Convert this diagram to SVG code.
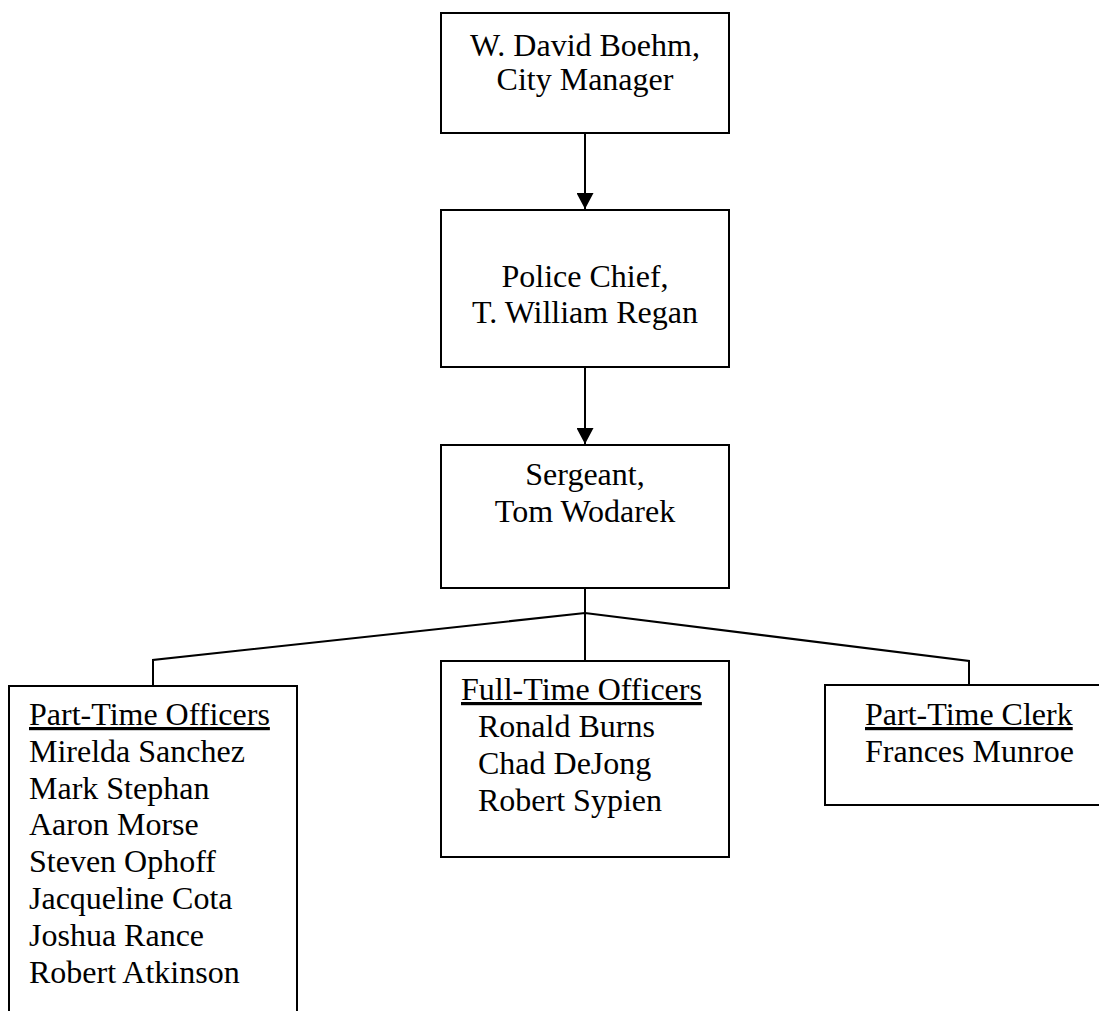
<svg xmlns="http://www.w3.org/2000/svg" width="1099" height="1011" viewBox="0 0 1099 1011">
<defs>
<style>
.box{fill:#fff;stroke:#000;stroke-width:2}
.t{font-family:"Liberation Serif","Times New Roman",serif;font-size:32px;fill:#000}
.c{text-anchor:middle}
.u{text-decoration:underline}
.ln{fill:none;stroke:#000;stroke-width:2}
</style>
<marker id="ah" viewBox="0 0 16 17" refX="16" refY="8.5" markerWidth="16" markerHeight="17" markerUnits="userSpaceOnUse" orient="auto">
<path d="M0,0 L16,8.5 L0,17 Z" fill="#000"/>
</marker>
</defs>
<rect width="1099" height="1011" fill="#fff"/>
<g id="connectors">
<line class="ln" x1="585" y1="133" x2="585" y2="209" marker-end="url(#ah)"/>
<line class="ln" x1="585" y1="367" x2="585" y2="444" marker-end="url(#ah)"/>
<line class="ln" x1="585" y1="588" x2="585" y2="661"/>
<polyline class="ln" points="153,686 153,660 585,613 969,661 969,685"/>
</g>
<g id="city-manager">
<rect class="box" x="441" y="13" width="288" height="120"/>
<text class="t c" x="585" y="56">W. David Boehm,</text>
<text class="t c" x="585" y="90">City Manager</text>
</g>
<g id="police-chief">
<rect class="box" x="441" y="210" width="288" height="157"/>
<text class="t c" x="585" y="287">Police Chief,</text>
<text class="t c" x="585" y="323">T. William Regan</text>
</g>
<g id="sergeant">
<rect class="box" x="441" y="445" width="288" height="143"/>
<text class="t c" x="585" y="485">Sergeant,</text>
<text class="t c" x="585" y="522">Tom Wodarek</text>
</g>
<g id="part-time-officers">
<rect class="box" x="9" y="686" width="288" height="340"/>
<text class="t u" x="29" y="725">Part-Time Officers</text>
<text class="t" x="29" y="762">Mirelda Sanchez</text>
<text class="t" x="29" y="799">Mark Stephan</text>
<text class="t" x="29" y="835">Aaron Morse</text>
<text class="t" x="29" y="872">Steven Ophoff</text>
<text class="t" x="29" y="909">Jacqueline Cota</text>
<text class="t" x="29" y="946">Joshua Rance</text>
<text class="t" x="29" y="983">Robert Atkinson</text>
</g>
<g id="full-time-officers">
<rect class="box" x="441" y="661" width="288" height="196"/>
<text class="t u" x="461" y="700">Full-Time Officers</text>
<text class="t" x="478" y="737">Ronald Burns</text>
<text class="t" x="478" y="774">Chad DeJong</text>
<text class="t" x="478" y="811">Robert Sypien</text>
</g>
<g id="part-time-clerk">
<rect class="box" x="825" y="685" width="290" height="120"/>
<text class="t u" x="865" y="725">Part-Time Clerk</text>
<text class="t" x="865" y="762">Frances Munroe</text>
</g>
</svg>
